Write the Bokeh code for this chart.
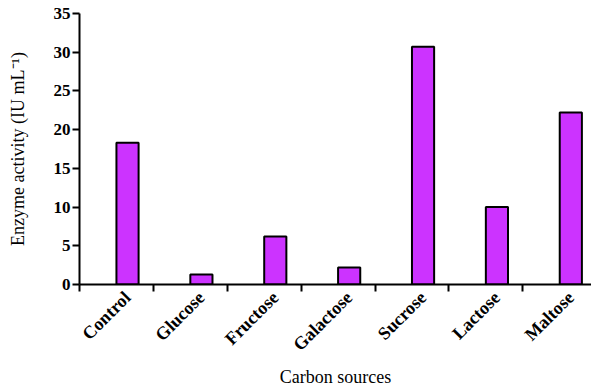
import math
from bokeh.plotting import figure
from bokeh.models import Range1d, FixedTicker, ColumnDataSource
from bokeh.embed import file_html
from bokeh.resources import INLINE

categories = ["Control", "Glucose", "Fructose", "Galactose", "Sucrose", "Lactose", "Maltose"]
activity = [18.3, 1.3, 6.2, 2.2, 30.7, 10.0, 22.2]
y_ticks = [0, 5, 10, 15, 20, 25, 30, 35]

idx = list(range(len(categories)))
src = ColumnDataSource(dict(x=idx, top=activity))

p = figure(frame_width=512, frame_height=271, min_border_left=79, min_border_right=0,
           min_border_top=13, min_border_bottom=100,
           x_range=Range1d(-0.65, len(categories) - 0.72), y_range=Range1d(0, 35),
           output_backend="svg", toolbar_location=None)

p.vbar(x="x", top="top", bottom=0, width=0.3, source=src,
       fill_color="#CC33FF", line_color="black", line_width=2)

FONT = "Liberation Serif"
p.xgrid.visible = False
p.ygrid.visible = False
p.outline_line_color = None

xa = p.xaxis[0]
xa.ticker = FixedTicker(ticks=idx, minor_ticks=[i - 0.65 for i in idx])
xa.major_label_overrides = {i: c for i, c in zip(idx, categories)}
xa.major_label_orientation = math.pi / 4
xa.major_tick_line_color = None
xa.major_tick_out = 0
xa.major_tick_in = 0
xa.minor_tick_out = 7
xa.minor_tick_in = 0
xa.minor_tick_line_width = 2
xa.minor_tick_line_color = "black"
xa.axis_line_width = 2
xa.axis_line_color = "black"
xa.major_label_text_font = FONT
xa.major_label_text_font_style = "bold"
xa.major_label_text_font_size = "18px"
xa.major_label_text_color = "black"
xa.major_label_standoff = 3
xa.axis_label = "Carbon sources"
xa.axis_label_text_font = FONT
xa.axis_label_text_font_style = "normal"
xa.axis_label_text_font_size = "18px"
xa.axis_label_text_color = "black"
xa.axis_label_standoff = 2

ya = p.yaxis[0]
ya.ticker = FixedTicker(ticks=y_ticks, minor_ticks=[])
ya.major_tick_out = 7
ya.major_tick_in = 0
ya.major_tick_line_width = 2
ya.minor_tick_line_color = None
ya.axis_line_width = 2
ya.axis_line_color = "black"
ya.major_label_text_font = FONT
ya.major_label_text_font_style = "bold"
ya.major_label_text_font_size = "17px"
ya.major_label_text_color = "black"
ya.major_label_standoff = 2
ya.axis_label = "Enzyme activity (IU mL\u207b\u00b9)"
ya.axis_label_text_font = FONT
ya.axis_label_text_font_style = "normal"
ya.axis_label_text_font_size = "18px"
ya.axis_label_text_color = "black"
ya.axis_label_standoff = 23

open("out.html", "w").write(file_html(p, INLINE))
